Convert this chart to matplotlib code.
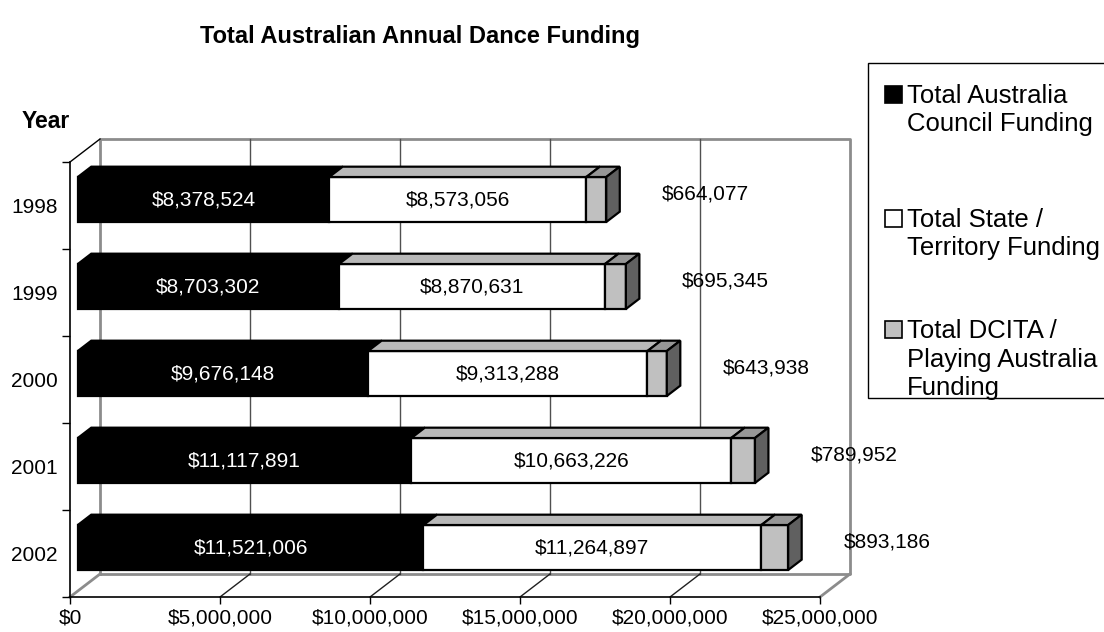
import matplotlib
matplotlib.use("Agg")
import matplotlib.pyplot as plt
from matplotlib.patches import Polygon, Rectangle
from matplotlib.ticker import FuncFormatter

plt.rcParams['font.family'] = ['Liberation Sans', 'DejaVu Sans']

# ---------------- data ----------------
years = ["1998", "1999", "2000", "2001", "2002"]
series_names = ["Total Australia\nCouncil Funding",
                "Total State /\nTerritory Funding",
                "Total DCITA /\nPlaying Australia\nFunding"]
council = [8378524, 8703302, 9676148, 11117891, 11521006]
state = [8573056, 8870631, 9313288, 10663226, 11264897]
dcita = [664077, 695345, 643938, 789952, 893186]
x_ticks = [0, 5000000, 10000000, 15000000, 20000000, 25000000]

title = "Total Australian Annual Dance Funding"
ylabel = "Year"

# ---------------- style ----------------
front_col = ["#000000", "#ffffff", "#c0c0c0"]
top_col = ["#000000", "#b8b8b8", "#969696"]
side_col = "#606060"
text_col = ["#ffffff", "#000000"]

W, H = 1104, 632
fig = plt.figure(figsize=(W / 100, H / 100), dpi=100)
ax = fig.add_axes([70 / W, (H - 597) / H, 750 / W, 435 / H])
ax.set_xlim(0, 25e6)
ax.set_ylim(0, 5)

n = len(years)
# depth of the 3-D box (data units)
DX = 1.0e6
DY = 23 / 87
f0 = 0.26          # depth of bar front face
bd = 0.45          # bar depth
bh = 0.517         # bar height
bx, by = bd * DX, bd * DY

grid_c = "#505050"
frame_c = "#8c8c8c"

# back wall
xmax = x_ticks[-1]
ax.plot([DX, xmax + DX, xmax + DX, DX, DX],
        [DY, DY, n + DY, n + DY, DY], color=frame_c, lw=2, clip_on=False, zorder=1)
for xt in x_ticks[1:-1]:
    ax.plot([xt + DX, xt + DX], [DY, n + DY], color=grid_c, lw=1, clip_on=False, zorder=1)
# floor
for xt in x_ticks:
    c = frame_c if xt in (x_ticks[0], x_ticks[-1]) else "#202020"
    lw = 2 if c == frame_c else 1
    ax.plot([xt, xt + DX], [0, DY], color=c, lw=lw, clip_on=False, zorder=1)
# side wall top edge
ax.plot([0, DX], [n, n + DY], color="black", lw=1, clip_on=False, zorder=1)


def poly(pts, fc):
    ax.add_patch(Polygon(pts, closed=True, facecolor=fc, edgecolor="black",
                         lw=1.6, joinstyle="miter", clip_on=False, zorder=3))


values = [council, state, dcita]
for i in range(n):
    c = (n - 1 - i) + 0.5
    yb = c + f0 * DY - bh / 2
    yt = yb + bh
    left = f0 * DX
    for s in range(3):
        v = values[s][i]
        x0, x1 = left, left + v
        poly([(x0, yb), (x1, yb), (x1, yt), (x0, yt)], front_col[s])
        poly([(x0, yt), (x1, yt), (x1 + bx, yt + by), (x0 + bx, yt + by)], top_col[s])
        if s == 2:
            poly([(x1, yb), (x1 + bx, yb + by), (x1 + bx, yt + by), (x1, yt)], side_col)
        if s < 2:
            ax.text((x0 + x1) / 2, (yb + yt) / 2, f"${v:,.0f}", ha="center", va="center",
                    fontsize=15, color=text_col[s], zorder=5)
        else:
            ax.text(x1 + 3.3e6, c + 0.135, f"${v:,.0f}", ha="center", va="center",
                    fontsize=15, color="black", zorder=5, clip_on=False)
        left = x1

# axes
for sp in ["top", "right"]:
    ax.spines[sp].set_visible(False)
ax.spines["left"].set_linewidth(1.2)
ax.spines["bottom"].set_linewidth(1.2)
ax.set_xticks(x_ticks)
ax.xaxis.set_major_formatter(FuncFormatter(lambda v, p: f"${v:,.0f}"))
ax.tick_params(axis="x", direction="out", length=5, width=1, pad=3.5, labelsize=15)
ax.set_yticks([n - 1 - i + 0.5 for i in range(n)])
ax.set_yticklabels(years)
ax.set_yticks(list(range(n + 1)), minor=True)
ax.tick_params(axis="y", which="major", length=0, pad=9, labelsize=15)
ax.tick_params(axis="y", which="minor", length=6, width=1, direction="out")
ax.patch.set_alpha(0)

# texts
fig.text(420 / W, 1 - 43 / H, title, ha="center", va="baseline", fontsize=17,
         fontweight="bold")
fig.text(22 / W, 1 - 128 / H, ylabel, ha="left", va="baseline", fontsize=16.5,
         fontweight="bold")

# legend (manual)
fig.patches.append(Rectangle((868 / W, 1 - 398 / H), 250 / W, 335 / H,
                             transform=fig.transFigure, facecolor="white",
                             edgecolor="black", lw=1, zorder=0))
leg_base = [103, 227, 338]
line_gap = 28.5
for k in range(3):
    yb = leg_base[k]
    fig.patches.append(Rectangle((885 / W, 1 - yb / H), 17 / W, 17 / H,
                                 transform=fig.transFigure, facecolor=front_col[k],
                                 edgecolor="black", lw=1.2, zorder=2))
    for j, line in enumerate(series_names[k].split("\n")):
        fig.text(907 / W, 1 - (yb + j * line_gap) / H, line, ha="left",
                 va="baseline", fontsize=18.5, zorder=3)

fig.savefig("out.png", dpi=100)
